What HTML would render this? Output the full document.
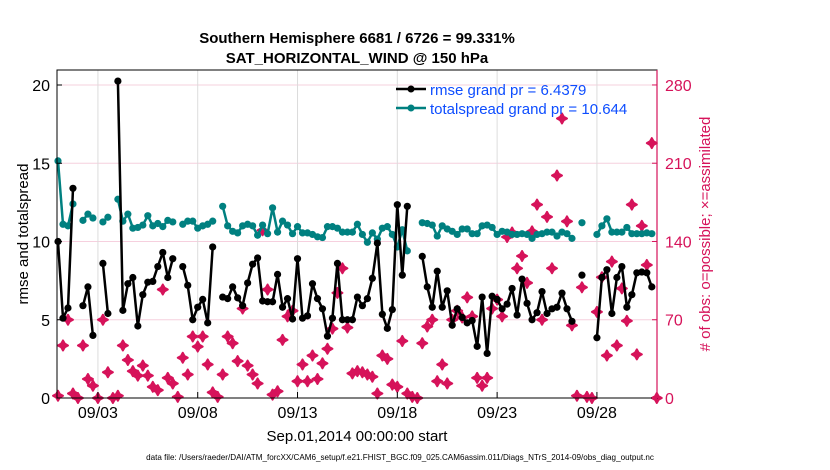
<!DOCTYPE html>
<html><head><meta charset="utf-8"><style>
body{margin:0;background:#fff;}
svg{display:block;font-family:"Liberation Sans",Arial,sans-serif;}
</style></head><body>
<svg id="chart" width="830" height="470" viewBox="0 0 830 470">
<rect x="0" y="0" width="830" height="470" fill="#fff"/>
<text x="357" y="43" text-anchor="middle" font-size="15" font-weight="bold">Southern Hemisphere 6681 / 6726 = 99.331%</text>
<text x="357" y="63" text-anchor="middle" font-size="15" font-weight="bold">SAT_HORIZONTAL_WIND @ 150 hPa</text>
<g id="grid"></g>
<g id="series"></g>
<rect x="57" y="70" width="600" height="328" fill="none" stroke="#000" stroke-width="1"/>
<line x1="657" y1="70" x2="657" y2="398" stroke="#d6135a" stroke-width="1.2"/>
<g id="axes"></g>
<text transform="translate(28,234) rotate(-90)" text-anchor="middle" font-size="15">rmse and totalspread</text>
<text transform="translate(710,234) rotate(-90)" text-anchor="middle" font-size="15" fill="#d6135a"># of obs: o=possible; ×=assimilated</text>
<text x="357" y="441" text-anchor="middle" font-size="15">Sep.01,2014 00:00:00 start</text>
<text x="400" y="460" text-anchor="middle" font-size="8.1">data file: /Users/raeder/DAI/ATM_forcXX/CAM6_setup/f.e21.FHIST_BGC.f09_025.CAM6assim.011/Diags_NTrS_2014-09/obs_diag_output.nc</text>
<g>
<line x1="396" y1="89" x2="426" y2="89" stroke="#000" stroke-width="2.5"/>
<circle cx="411" cy="89" r="3.5" fill="#000"/>
<text x="430" y="95" font-size="15" fill="#0d4dff">rmse grand pr = 6.4379</text>
<line x1="396" y1="108" x2="426" y2="108" stroke="#008080" stroke-width="2.5"/>
<circle cx="411" cy="108" r="3.5" fill="#008080"/>
<text x="430" y="114" font-size="15" fill="#0d4dff">totalspread grand pr = 10.644</text>
</g>
</svg>
<script>
const xTickDays=[2,7,12,17,22,27];
const xTickLabels=["09/03","09/08","09/13","09/18","09/23","09/28"];
const yLeftTicks=[0,5,10,15,20];
const yRightTicks=[0,70,140,210,280];
const rmse=[10.0,5.1,5.75,13.4,null,5.9,7.1,4.0,null,8.6,5.4,null,20.25,5.6,7.3,7.7,4.6,6.6,7.4,7.45,8.4,9.3,7.7,8.9,null,8.4,7.2,5.0,5.8,6.3,4.8,9.65,null,6.45,6.35,7.1,6.4,5.9,7.35,8.55,8.95,6.2,6.15,6.15,7.9,5.8,6.35,5.05,8.9,5.1,5.25,7.3,6.35,5.7,3.95,5.1,8.6,5.0,5.0,5.0,6.45,5.9,6.35,7.65,9.9,5.35,4.45,5.65,12.35,7.85,12.25,null,null,9.05,7.1,5.8,8.1,5.8,6.85,4.65,5.7,5.15,4.8,4.95,3.3,6.45,2.85,6.5,6.3,5.7,6.0,7.0,5.3,7.6,6.05,5.0,5.45,6.8,5.4,5.7,5.8,6.7,5.7,4.9,null,7.85,null,null,3.85,7.7,8.2,5.4,7.7,8.4,5.8,6.6,8.0,8.05,8.0,7.1,null];
const spread=[15.15,11.1,11.0,12.4,null,11.35,11.75,11.5,null,11.25,11.55,null,12.7,11.3,11.75,10.85,10.9,11.05,11.65,11.0,11.15,10.95,11.35,11.25,null,11.1,11.3,11.3,10.85,11.0,11.1,11.3,null,12.25,11.0,10.65,10.55,11.0,11.1,11.0,10.4,11.05,10.5,12.15,10.6,11.3,11.05,10.5,10.95,10.55,10.55,10.45,10.3,10.25,10.95,10.95,10.85,10.6,10.6,10.6,11.1,10.45,9.95,10.55,10.15,10.85,10.95,10.45,9.65,10.75,9.4,null,null,11.2,11.15,11.05,10.35,11.0,10.8,10.65,10.45,10.8,10.8,10.5,10.5,11.0,11.05,10.9,10.45,10.65,10.6,10.45,10.45,10.5,10.45,10.2,10.45,10.5,10.6,10.6,10.35,10.6,10.5,10.2,null,11.2,null,null,10.45,11.0,11.45,10.6,10.6,10.6,10.9,10.5,10.5,10.5,10.55,10.5,null];
const nAssim=[2,47,70,4,0,47,17,11,0,70,23,0,2,47,34,24,20,29,20,10,7,97,18,13,1,36,21,55,46,55,30,5,1,21,55,49,33,80,29,21,13,150,97,3,6,52,73,78,15,30,15,38,17,31,44,62,94,116,63,22,24,23,21,19,4,38,35,12,10,51,4,1,0,49,64,70,15,30,13,70,78,72,90,73,18,11,18,80,88,73,144,148,116,127,103,149,173,70,162,116,199,250,158,65,2,99,1,0,77,108,38,122,47,98,69,173,39,154,119,228,0];
const X0=58,PX_PER_DAY=19.96,YB=398,YL_PER=15.65,YR_PER=1.118;
const xs=d=>X0+d*PX_PER_DAY;
const xi=i=>xs(i*0.25);
const yl=v=>YB-v*YL_PER;
const yr=v=>YB-v*YR_PER;
const NS="http://www.w3.org/2000/svg";
function mk(tag,attrs,parent){const e=document.createElementNS(NS,tag);for(const k in attrs)e.setAttribute(k,attrs[k]);parent.appendChild(e);return e;}
const grid=document.getElementById('grid'),axes=document.getElementById('axes'),ser=document.getElementById('series');
yLeftTicks.forEach((t,k)=>{
 if(t>0){const g=mk('line',{x1:57,x2:657,y1:yl(t),y2:yl(t),stroke:'#f6d0de','stroke-width':1},grid);
 
 }
 const tk=mk('line',{x1:57,x2:62,y1:yl(t),y2:yl(t),stroke:'#000'},axes);
 
 
 const tx=mk('text',{x:50,y:yl(t)+6,'text-anchor':'end','font-size':16},axes);tx.textContent=t;
 
 
});
yRightTicks.forEach(t=>{
 const tk=mk('line',{x1:652,x2:657,y1:yr(t),y2:yr(t),stroke:'#d6135a'},axes);
 
 
 const tx=mk('text',{x:665,y:yr(t)+6,'font-size':16,fill:'#d6135a'},axes);tx.textContent=t;
 
 
});
xTickDays.forEach((d,k)=>{
 const g=mk('line',{x1:xs(d),x2:xs(d),y1:70,y2:398,stroke:'#dcdcdc','stroke-width':1},grid);
 
 
 const tk=mk('line',{x1:xs(d),x2:xs(d),y1:392,y2:398,stroke:'#000'},axes);
 
 
 const tx=mk('text',{x:xs(d),y:418,'text-anchor':'middle','font-size':16},axes);tx.textContent=xTickLabels[k];
 
 
});
nAssim.forEach((v,i)=>{
 if(v==null)return;
 const cx=xi(i),cy=yr(v);
 const p=mk('path',{d:`M${cx},${cy-5}L${cx+1.8},${cy-1.8}L${cx+5},${cy}L${cx+1.8},${cy+1.8}L${cx},${cy+5}L${cx-1.8},${cy+1.8}L${cx-5},${cy}L${cx-1.8},${cy-1.8}Z`,fill:'#d6135a',stroke:'#d6135a','stroke-width':2,'stroke-linejoin':'round'},ser);
 
 
});
function drawLine(arr,color,name){
 let d='';let pen=false;
 arr.forEach((v,i)=>{if(v==null){pen=false;return;}d+=(pen?'L':'M')+xi(i).toFixed(1)+','+yl(v).toFixed(1);pen=true;});
 const p=mk('path',{d:d,fill:'none',stroke:color,'stroke-width':2.5,'stroke-linejoin':'round'},ser);
 
 
 arr.forEach((v,i)=>{if(v==null)return;
  const c=mk('circle',{cx:xi(i),cy:yl(v),r:3.6,fill:color},ser);
  
  
 });
}
drawLine(spread,'#008080','totalspread');
drawLine(rmse,'#000000','rmse');
</script>
</body></html>
